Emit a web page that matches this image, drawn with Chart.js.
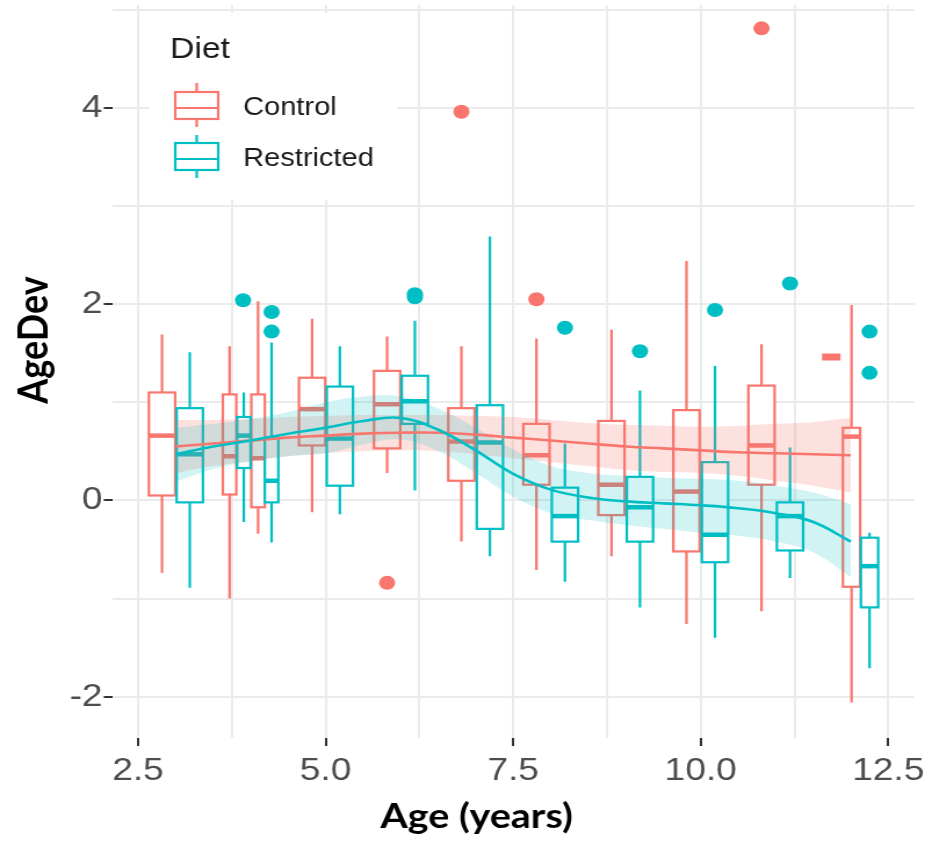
<!DOCTYPE html>
<html>
<head>
<meta charset="utf-8">
<script src="https://cdn.jsdelivr.net/npm/chart.js@4.4.1/dist/chart.umd.min.js"></script>
<style>
  html, body { margin: 0; padding: 0; background: #fff; overflow: hidden; }
  /* the reference is stretched sideways, so draw narrower and stretch */
  #wrap { width: 803px; height: 842px; transform: scaleX(1.1606); transform-origin: 0 0; }
  /* chart.js keeps ~16px above the plot; pull the canvas up so the plot starts near the top */
  #inner { position: relative; top: -10px; width: 803px; height: 852px; }
</style>
</head>
<body>
<div id="wrap"><div id="inner"><canvas id="chart"></canvas></div></div>
<script>
// ---- data ----
var xTicks = [2.5, 3.75, 5, 6.25, 7.5, 8.75, 10, 11.25, 12.5];
var xTickLabels = ['2.5', '', '5.0', '', '7.5', '', '10.0', '', '12.5'];
var yTicks = [-2, -1, 0, 1, 2, 3, 4, 5];
var yTickLabels = ['-2', '', '0', '', '2', '', '4', ''];

// Control boxes
var controlAge = [2.82, 3.72, 4.10, 4.82, 5.82, 6.81, 7.81, 8.81, 9.81, 10.81, 12.01];
var controlMin = [-0.74, -1.00, -0.34, -0.12, 0.28, -0.42, -0.71, -0.57, -1.26, -1.13, -2.06];
var controlQ1  = [0.05, 0.06, -0.07, 0.56, 0.53, 0.20, 0.16, -0.15, -0.52, 0.16, -0.88];
var controlMed = [0.66, 0.45, 0.43, 0.93, 0.98, 0.60, 0.46, 0.16, 0.09, 0.56, 0.65];
var controlQ3  = [1.10, 1.08, 1.08, 1.25, 1.32, 0.94, 0.78, 0.81, 0.92, 1.17, 0.74];
var controlMax = [1.69, 1.57, 2.03, 1.85, 1.67, 1.57, 1.65, 1.74, 2.44, 1.59, 1.99];
var controlOutX = [5.82, 6.81, 7.81, 10.81];
var controlOutY = [-0.84, 3.96, 2.05, 4.81];
var controlDashX = [11.74];
var controlDashY = [1.46];

// Restricted boxes
var restrictedAge = [3.19, 3.91, 4.28, 5.19, 6.19, 7.19, 8.19, 9.19, 10.19, 11.19, 12.25];
var restrictedMin = [-0.89, -0.22, -0.43, -0.14, 0.10, -0.57, -0.83, -1.09, -1.40, -0.79, -1.71];
var restrictedQ1  = [-0.02, 0.33, -0.02, 0.15, 0.78, -0.29, -0.42, -0.42, -0.63, -0.51, -1.09];
var restrictedMed = [0.47, 0.66, 0.20, 0.63, 1.01, 0.59, -0.16, -0.07, -0.35, -0.16, -0.67];
var restrictedQ3  = [0.94, 0.85, 0.64, 1.16, 1.27, 0.97, 0.13, 0.24, 0.39, -0.02, -0.38];
var restrictedMax = [1.51, 1.10, 1.61, 1.57, 1.83, 2.69, 0.58, 1.12, 1.37, 0.54, -0.33];
var restrictedOutX = [3.90, 4.28, 4.28, 6.19, 6.19, 8.19, 9.19, 10.19, 11.19, 12.25, 12.25];
var restrictedOutY = [2.04, 1.92, 1.72, 2.10, 2.07, 1.76, 1.52, 1.94, 2.21, 1.72, 1.30];

// smooth fits with confidence bands
var smoothAge = [3.0, 3.5, 4.0, 4.5, 5.0, 5.5, 6.0, 6.5, 7.0, 7.5, 8.0, 8.5, 9.0, 9.5, 10.0, 10.5, 11.0, 11.5, 12.0];
var controlFit = [0.55, 0.58, 0.61, 0.64, 0.66, 0.68, 0.69, 0.69, 0.67, 0.64, 0.61, 0.58, 0.55, 0.53, 0.51, 0.49, 0.48, 0.47, 0.46];
var controlHi  = [0.82, 0.82, 0.83, 0.85, 0.86, 0.87, 0.87, 0.87, 0.86, 0.85, 0.82, 0.79, 0.77, 0.76, 0.75, 0.76, 0.78, 0.80, 0.84];
var controlLo  = [0.28, 0.35, 0.40, 0.45, 0.48, 0.50, 0.51, 0.50, 0.47, 0.43, 0.39, 0.35, 0.31, 0.29, 0.28, 0.25, 0.20, 0.15, 0.08];
var restrictedFit = [0.47, 0.55, 0.61, 0.68, 0.74, 0.81, 0.84, 0.72, 0.51, 0.27, 0.11, 0.03, -0.01, -0.03, -0.05, -0.08, -0.13, -0.22, -0.42];
var restrictedHi  = [0.74, 0.78, 0.83, 0.90, 1.00, 1.06, 1.06, 0.94, 0.74, 0.52, 0.35, 0.28, 0.25, 0.23, 0.22, 0.20, 0.15, 0.08, -0.04];
var restrictedLo  = [0.19, 0.32, 0.40, 0.45, 0.48, 0.57, 0.62, 0.50, 0.28, 0.04, -0.13, -0.20, -0.25, -0.29, -0.33, -0.36, -0.42, -0.53, -0.78];

// ---- styling ----
var RED = '#F8766D';
var TEAL = '#00BFC4';
var SHIFT = 10; // canvas is drawn 10px higher than the page
var boxWidth = [0.35, 0.18, 0.18, 0.35, 0.35, 0.35, 0.35, 0.35, 0.35, 0.35, 0.23];
var FONT = '"Liberation Sans", Arial, sans-serif';

function pts(xs, ys) {
    return xs.map(function (x, i) { return { x: x, y: ys[i] }; });
}

// unlabelled ticks get a tiny font so they do not add padding
function tickFont(labels) {
    return function (c) {
        return { family: FONT, size: labels[c.index] ? 32 : 1 };
    };
}

var groups = [
    { age: controlAge, min: controlMin, q1: controlQ1, med: controlMed, q3: controlQ3, max: controlMax, color: RED },
    { age: restrictedAge, min: restrictedMin, q1: restrictedQ1, med: restrictedMed, q3: restrictedQ3, max: restrictedMax, color: TEAL }
];

// draws legend background and the boxplots under the smooth layers
var boxPlugin = {
    id: 'boxes',
    beforeDatasetsDraw: function (chart) {
        var ctx = chart.ctx, xs = chart.scales.x, ys = chart.scales.y;
        ctx.save();
        ctx.fillStyle = '#fff';
        ctx.fillRect(129, 13 + SHIFT, 213, 187);
        groups.forEach(function (g) {
            for (var i = 0; i < g.age.length; i++) {
                var cx = xs.getPixelForValue(g.age[i]);
                var hw = xs.getPixelForValue(g.age[i] + boxWidth[i] / 2) - cx;
                var yMin = ys.getPixelForValue(g.min[i]);
                var yQ1 = ys.getPixelForValue(g.q1[i]);
                var yMed = ys.getPixelForValue(g.med[i]);
                var yQ3 = ys.getPixelForValue(g.q3[i]);
                var yMax = ys.getPixelForValue(g.max[i]);
                ctx.strokeStyle = g.color;
                ctx.lineWidth = 2.2;
                ctx.beginPath();
                ctx.moveTo(cx, yMax); ctx.lineTo(cx, yQ3);
                ctx.moveTo(cx, yQ1); ctx.lineTo(cx, yMin);
                ctx.stroke();
                ctx.fillStyle = '#fff';
                ctx.fillRect(cx - hw, yQ3, hw * 2, yQ1 - yQ3);
                ctx.strokeRect(cx - hw, yQ3, hw * 2, yQ1 - yQ3);
                ctx.lineWidth = 4.5;
                ctx.beginPath();
                ctx.moveTo(cx - hw, yMed); ctx.lineTo(cx + hw, yMed);
                ctx.stroke();
            }
        });
        ctx.restore();
    }
};

// axis titles and legend
var textPlugin = {
    id: 'texts',
    afterDraw: function (chart) {
        var ctx = chart.ctx;
        ctx.save();
        ctx.translate(0, SHIFT);
        ctx.fillStyle = '#000';
        ctx.font = 'bold 34px Lato, "Open Sans", sans-serif';
        ctx.textAlign = 'center';
        ctx.textBaseline = 'alphabetic';
        ctx.fillText('Age (years)', 410.6, 828);
        ctx.save();
        ctx.translate(41, 340);
        ctx.rotate(-Math.PI / 2);
        ctx.font = 'bold 36px Lato, "Open Sans", sans-serif';
        ctx.fillText('AgeDev', 0, 0);
        ctx.restore();

        // legend
        ctx.textAlign = 'left';
        ctx.fillStyle = '#1a1a1a';
        ctx.font = '29px ' + FONT;
        ctx.fillText('Diet', 146.6, 58);
        ctx.font = '25px ' + FONT;
        ctx.fillText('Control', 209.5, 115);
        ctx.fillText('Restricted', 209.5, 166);
        [[RED, 83, 92, 108, 119, 127], [TEAL, 135, 143, 159, 170, 178]].forEach(function (k) {
            ctx.strokeStyle = k[0];
            ctx.lineWidth = 2.2;
            ctx.beginPath();
            ctx.moveTo(169.5, k[1]); ctx.lineTo(169.5, k[2]);
            ctx.moveTo(169.5, k[4]); ctx.lineTo(169.5, k[5]);
            ctx.moveTo(151, k[3]); ctx.lineTo(188, k[3]);
            ctx.stroke();
            ctx.strokeRect(151, k[2], 37, k[4] - k[2]);
        });
        ctx.restore();
    }
};

var ctx = document.getElementById('chart');
var chart = new Chart(ctx, {
    type: 'line',
    data: {
        datasets: [
            { data: pts(controlOutX, controlOutY), showLine: false, pointRadius: 7, pointBackgroundColor: RED, pointBorderWidth: 0, order: 0 },
            { data: pts(controlDashX, controlDashY), showLine: false, pointStyle: 'line', pointRadius: 8, pointBorderColor: RED, pointBorderWidth: 7, order: 0 },
            { data: pts(restrictedOutX, restrictedOutY), showLine: false, pointRadius: 7, pointBackgroundColor: TEAL, pointBorderWidth: 0, order: 0 },
            { data: pts(smoothAge, restrictedFit), borderColor: TEAL, borderWidth: 2.6, pointRadius: 0, tension: 0.4, fill: false, order: 1 },
            { data: pts(smoothAge, controlFit), borderColor: RED, borderWidth: 2.6, pointRadius: 0, tension: 0.4, fill: false, order: 1 },
            { data: pts(smoothAge, restrictedHi), borderWidth: 0, pointRadius: 0, tension: 0.4, fill: '+1', backgroundColor: 'rgba(0,191,196,0.18)', order: 2 },
            { data: pts(smoothAge, restrictedLo), borderWidth: 0, pointRadius: 0, tension: 0.4, fill: false, order: 2 },
            { data: pts(smoothAge, controlHi), borderWidth: 0, pointRadius: 0, tension: 0.4, fill: '+1', backgroundColor: 'rgba(248,118,109,0.22)', order: 3 },
            { data: pts(smoothAge, controlLo), borderWidth: 0, pointRadius: 0, tension: 0.4, fill: false, order: 3 }
        ]
    },
    options: {
        responsive: true,
        maintainAspectRatio: false,
        animation: false,
        layout: { padding: { left: 0, right: 14.6, top: 6, bottom: 0 } },
        plugins: {
            legend: { display: false },
            tooltip: { enabled: false }
        },
        scales: {
            x: {
                type: 'linear',
                min: 2.167,
                max: 12.846,
                afterBuildTicks: function (s) { s.ticks = xTicks.map(function (v) { return { value: v }; }); },
                afterFit: function (s) { s.height = 104; },
                border: { display: false },
                grid: {
                    color: '#ebebeb',
                    lineWidth: 2,
                    tickLength: 8,
                    tickWidth: 2,
                    tickColor: function (c) { return xTickLabels[c.index] ? '#333' : 'rgba(0,0,0,0)'; }
                },
                ticks: {
                    autoSkip: false,
                    maxRotation: 0,
                    padding: 6,
                    color: '#4d4d4d',
                    font: tickFont(xTickLabels),
                    callback: function (v, i) { return xTickLabels[i]; }
                }
            },
            y: {
                min: -2.421,
                max: 5.048,
                afterBuildTicks: function (s) { s.ticks = yTicks.map(function (v) { return { value: v }; }); },
                afterFit: function (s) { s.width = 97.4; },
                border: { display: false },
                grid: {
                    color: '#ebebeb',
                    lineWidth: 2,
                    tickLength: 8,
                    tickWidth: 2,
                    tickColor: function (c) { return yTickLabels[c.index] ? '#333' : 'rgba(0,0,0,0)'; }
                },
                ticks: {
                    padding: 1,
                    color: '#4d4d4d',
                    font: tickFont(yTickLabels),
                    callback: function (v, i) { return yTickLabels[i]; }
                }
            }
        }
    },
    plugins: [boxPlugin, textPlugin]
});
</script>
</body>
</html>
